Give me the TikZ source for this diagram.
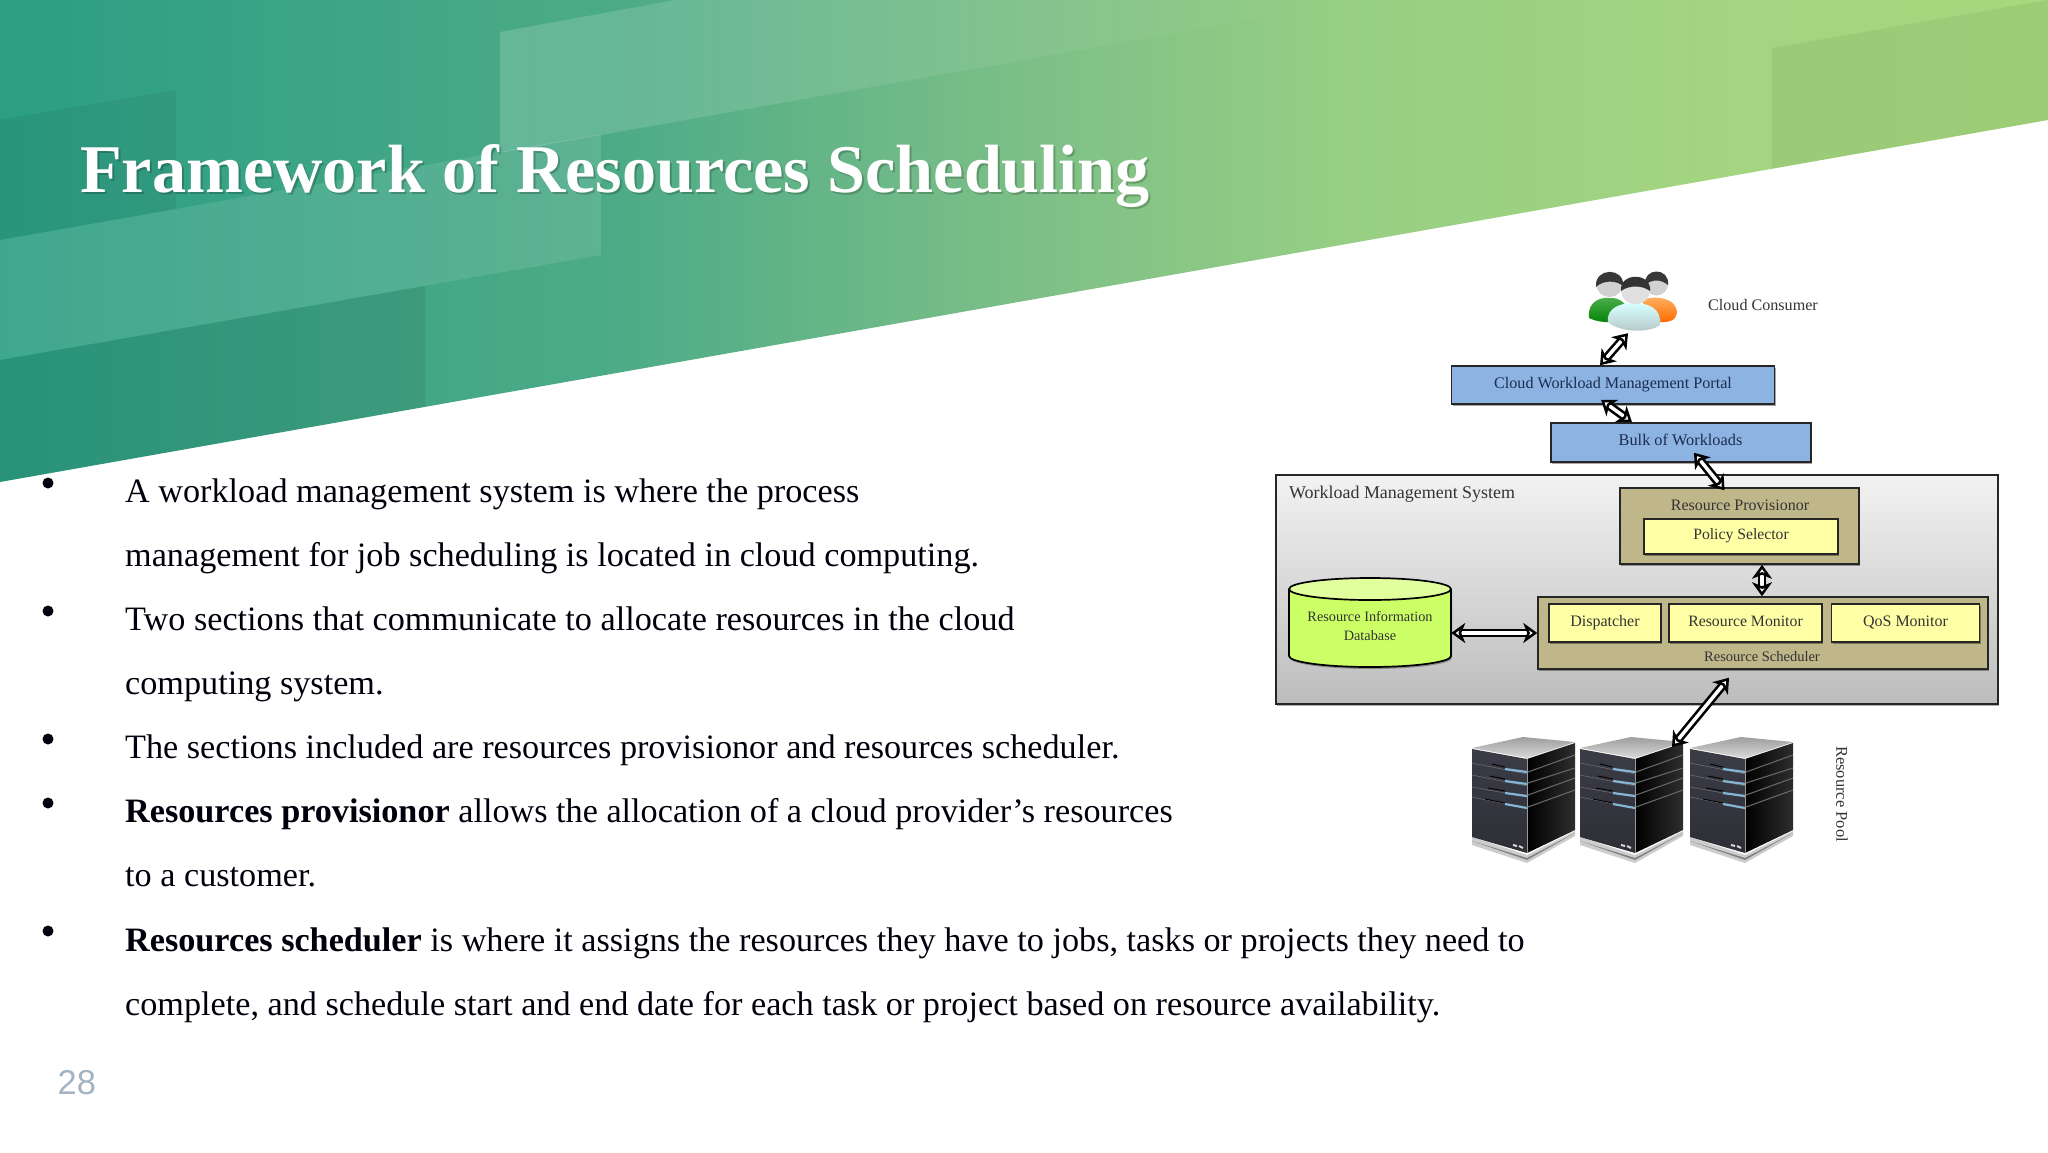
\documentclass[tikz,border=0pt]{standalone}
\usepackage{fontspec}
\setmainfont{Liberation Serif}
\newfontfamily\pagefont{Liberation Sans}
\usetikzlibrary{arrows.meta,shapes.geometric,shadows,calc,fadings}
\definecolor{gradA}{HTML}{2B9E83}
\definecolor{gradB}{HTML}{4DAB87}
\definecolor{gradC}{HTML}{7CBF87}
\definecolor{gradD}{HTML}{96CE84}
\definecolor{gradE}{HTML}{A4D580}
\definecolor{gradF}{HTML}{A6D87E}
\pgfdeclarehorizontalshading{bannergrad}{100bp}{color(0bp)=(gradA); color(25bp)=(gradA); color(40bp)=(gradB); color(50bp)=(gradC); color(57.5bp)=(gradD); color(67.5bp)=(gradE); color(75bp)=(gradF); color(100bp)=(gradF)}
\definecolor{blueBox}{HTML}{8DB3E2}
\definecolor{tanBox}{HTML}{BFB68A}
\definecolor{yelBox}{HTML}{FFFFA6}
\definecolor{dbBody}{HTML}{CCFF66}
\definecolor{dbTop}{HTML}{E2FF9E}
\definecolor{inkNavy}{HTML}{1C2C50}
\definecolor{inkGrey}{HTML}{333333}
\definecolor{pageGrey}{HTML}{A3B3C2}
\definecolor{ledBlue}{HTML}{86B6D6}
\definecolor{frontTop}{HTML}{3C3C48}
\definecolor{frontBot}{HTML}{2E2E36}
\tikzset{
  boxbase/.style={draw=black!85,line width=1.5pt,inner sep=0pt,text height=11pt,text depth=4.5pt,
    drop shadow={shadow xshift=1pt,shadow yshift=-1.5pt,opacity=.35,fill=black}},
  bluebox/.style={boxbase,fill=blueBox,text=inkNavy},
  tanbox/.style={boxbase,fill=tanBox,text=inkGrey},
  yelbox/.style={boxbase,fill=yelBox,text=inkGrey},
  lab/.style={text=inkGrey,inner sep=0pt},
  dblarrow/.style={draw=black,line width=2.6pt,double=white,double distance=3.5pt,
    {Stealth[length=14pt,width=20pt,inset=4pt,open,fill=white,line width=2.8pt]}-{Stealth[length=14pt,width=20pt,inset=4pt,open,fill=white,line width=2.8pt]}},
  bodyline/.style={anchor=base west,inner sep=0pt,text=black!95!blue},
  bulletdot/.style={circle,fill=black!95!blue,minimum size=11pt,inner sep=0pt},
}
\newcommand{\dfs}[1]{\fontsize{#1}{18}\selectfont}
\newcommand{\serverpic}[1]{%
\begin{scope}[shift={(#1,690)}]
  \fill[black!20] (52,147) -- (107,165) -- (155,141) -- (155,146) -- (107,173) -- (52,155) -- cycle;
  \fill[black!50] (52,151) -- (107,168) -- (155,143) -- (107,170) -- cycle;
  \shade[top color=black!38,bottom color=black!15] (52,58) -- (103,47) -- (155,52) -- (107,68) -- cycle;
  \shade[top color=frontTop,bottom color=frontBot] (52,59) -- (107,69) -- (107,163) -- (52,147) -- cycle;
  \shade[left color=black,right color=black!82] (107,69) -- (155,53) -- (155,140) -- (107,163) -- cycle;
  \draw[black!60,line width=1.1pt] (108,82) -- (155,65) (108,93) -- (155,78) (108,105) -- (155,88) (108,117) -- (155,100);
  \draw[black!55,line width=.5pt] (52,73) -- (107,84) (52,85) -- (107,96) (52,97) -- (107,107) (52,107) -- (107,118);
  \draw[black,line width=.9pt] (72,74) -- (85,77) (70,86) -- (85,89) (68,98) -- (85,101) (65,109) -- (85,113);
  \draw[ledBlue,line width=2.2pt] (85,79) -- (107,82) (85,91) -- (107,94) (85,103) -- (107,106) (85,114) -- (107,118);
  \draw[black!40,line width=.8pt] (107,69) -- (107,163);
  \draw[white!85!black,line width=2pt] (93,155) -- (97,156) (99,156) -- (103,158);
\end{scope}}
\begin{document}
\begin{tikzpicture}[x=1pt,y=-1pt]
\useasboundingbox (0,0) rectangle (2048,1152);
\fill[white] (0,0) rectangle (2048,1152);
% banner
\shade[shading=bannergrad] (0,0) -- (2048,0) -- (2048,120) -- (0,482) -- cycle;
\begin{scope}
  \clip (0,0) -- (2048,0) -- (2048,120) -- (0,482) -- cycle;
  \fill[black,opacity=.05] (0,120) -- (176,90) -- (176,209) -- (0,240) -- cycle;
  \fill[white,opacity=.10] (0,240) -- (601,134) -- (601,255) -- (0,360) -- cycle;
  \fill[black,opacity=.07] (0,360) -- (425,286) -- (425,482) -- (0,482) -- cycle;
  \fill[white,opacity=.17,path fading=east] (500,32) -- (676,0) -- (1360,0) -- (1024,60) -- (500,153) -- cycle;
  \fill[black,opacity=.05] (1772,48) -- (2048,0) -- (2048,130) -- (1772,180) -- cycle;
\end{scope}
% title
\node[anchor=base west,inner sep=0pt,text=black,opacity=.2,font=\bfseries\fontsize{68.25}{70}\selectfont] (titleshadow) at (82,194) {Framework of Resources Scheduling};
\node[anchor=base west,inner sep=0pt,text=white,font=\bfseries\fontsize{68.25}{70}\selectfont] (title) at (80,192) {Framework of Resources Scheduling};
% body
\begin{scope}[every node/.append style={font=\fontsize{34.2}{36}\selectfont}]
\node[bodyline] (l1) at (125,502) {A workload management system is where the process};
\node[bodyline] (l2) at (125,566) {management for job scheduling is located in cloud computing.};
\node[bodyline] (l3) at (125,630) {Two sections that communicate to allocate resources in the cloud};
\node[bodyline] (l4) at (125,694) {computing system.};
\node[bodyline] (l5) at (125,758) {The sections included are resources provisionor and resources scheduler.};
\node[bodyline] (l6) at (125,822.5) {\textbf{Resources provisionor} allows the allocation of a cloud provider’s resources};
\node[bodyline] (l7) at (125,886.5) {to a customer.};
\node[bodyline] (l8) at (125,951.5) {\textbf{Resources scheduler} is where it assigns the resources they have to jobs, tasks or projects they need to};
\node[bodyline] (l9) at (125,1015.5) {complete, and schedule start and end date for each task or project based on resource availability.};
\end{scope}
\node[bulletdot] (b1) at (48,483) {};
\node[bulletdot] (b2) at (48,611) {};
\node[bulletdot] (b3) at (48,739) {};
\node[bulletdot] (b4) at (48,803) {};
\node[bulletdot] (b5) at (48,931) {};
\node[anchor=base west,inner sep=0pt,text=pageGrey,font=\pagefont\fontsize{34.5}{36}\selectfont] (pagenum) at (57.5,1094.5) {28};
% workload system
\node[draw=black!85,line width=1.7pt,top color=black!5,bottom color=black!26,minimum width=722pt,minimum height=229pt,inner sep=0pt,drop shadow={shadow xshift=1pt,shadow yshift=-1.5pt,opacity=.3,fill=black}] (wms) at (1637,589.5) {};
\node[lab,anchor=west,font=\dfs{17.95}] (wmslabel) at (1289,494.5) {Workload Management System};
% boxes
\node[bluebox,minimum width=323pt,minimum height=38pt,font=\dfs{16.15}] (portal) at (1613,385) {Cloud Workload Management Portal};
\node[bluebox,minimum width=260pt,minimum height=39pt] (bulk) at (1681,442.5) {};
\node[text=inkNavy,inner sep=0pt,font=\dfs{16.3}] (bulktext) at (1680.5,440) {Bulk of Workloads};
\node[tanbox,minimum width=239pt,minimum height=76pt] (prov) at (1739.5,526) {};
\node[lab,font=\dfs{16}] (provtext) at (1740,505) {Resource Provisionor};
\node[yelbox,minimum width=194pt,minimum height=35pt,font=\dfs{15.7}] (policy) at (1741,536.5) {Policy Selector};
\node[tanbox,minimum width=450pt,minimum height=72pt] (sched) at (1763,633) {};
\node[lab,font=\dfs{14.5}] (schedtext) at (1762,657) {Resource Scheduler};
\node[yelbox,minimum width=112pt,minimum height=38pt,font=\dfs{16}] (disp) at (1605,623) {Dispatcher};
\node[yelbox,minimum width=153pt,minimum height=38pt,font=\dfs{15.8}] (monitor) at (1745.5,623) {Resource Monitor};
\node[yelbox,minimum width=148pt,minimum height=38pt,font=\dfs{16}] (qos) at (1905.5,623) {QoS Monitor};
% database
\node[inner sep=0pt,minimum width=162pt,minimum height=89pt] (db) at (1370,622.5) {};
\fill[black,opacity=.3] (1290,591) -- (1290,658) arc[start angle=180,end angle=360,x radius=81pt,y radius=11pt] -- (1452,591) -- cycle;
\fill[dbBody] (1289,589) -- (1289,656) arc[start angle=180,end angle=360,x radius=81pt,y radius=11pt] -- (1451,589) -- cycle;
\fill[dbTop] (1370,589) ellipse (81pt and 11pt);
\draw[black,line width=1.7pt] (1289,589) -- (1289,656) arc[start angle=180,end angle=360,x radius=81pt,y radius=11pt] -- (1451,589);
\draw[black,line width=1.7pt] (1370,589) ellipse (81pt and 11pt);
\node[inner sep=0pt,text=inkGrey,align=center,font=\fontsize{14.3}{19.6}\selectfont] (dbtext) at (1370,626) {Resource Information\\Database};
% people
\node[inner sep=0pt,minimum size=0pt] (users) at (1633,303) {};
\shade[top color=green!55!black!70!white,bottom color=green!50!black] (1589,318) .. controls (1587,302) and (1600,297) .. (1609,298) .. controls (1620,297) and (1630,304) .. (1628,320) .. controls (1610,324) and (1597,322) .. (1589,318) -- cycle;
\shade[top color=orange!60!white,bottom color=orange!85!red] (1643,300) .. controls (1650,296) and (1672,296) .. (1676,308) .. controls (1679,316) and (1674,322) .. (1664,322) -- (1643,322) -- cycle;
\fill[black!18] (1609.5,285) ellipse (13pt and 12pt);
\fill[black!18] (1656.5,284) ellipse (11.5pt and 11.5pt);
\fill[black!78] (1596,287) .. controls (1594,267) and (1625,267) .. (1623,286) .. controls (1616,280) and (1603,280) .. (1596,287) -- cycle;
\fill[black!78] (1645,285) .. controls (1643,267) and (1670,267) .. (1668,285) .. controls (1661,279) and (1652,279) .. (1645,285) -- cycle;
\shade[top color=cyan!15!white,bottom color=cyan!25!black!30!white] (1608,322) .. controls (1606,307) and (1622,303) .. (1634,303) .. controls (1648,303) and (1662,308) .. (1660,325) .. controls (1650,333) and (1620,333) .. (1608,322) -- cycle;
\fill[black!12] (1635.5,291) ellipse (14.5pt and 13pt);
\fill[black!80] (1621,291) .. controls (1619,272) and (1652,272) .. (1650,291) .. controls (1642,285) and (1629,285) .. (1621,291) -- cycle;
\node[lab,font=\dfs{16.1}] (consumer) at (1763,305) {Cloud Consumer};
% servers
\serverpic{1420}
\serverpic{1528}
\serverpic{1638}
\node[lab,rotate=-90,font=\dfs{16.5}] (pool) at (1842,794) {Resource Pool};
\coordinate (poolend) at (1672,747);
% connectors
\draw[dblarrow] ([xshift=-13pt]portal.north) -- ([shift={(-5pt,-30pt)}]users.south);
\draw[dblarrow] ([xshift=-12pt,yshift=5pt]portal.south) -- ([xshift=-49pt]bulk.north);
\draw[dblarrow] ([xshift=13pt,yshift=10pt]bulk.south) -- ([xshift=-15pt,yshift=-3pt]prov.north);
\draw[dblarrow] (prov.south -| 1762,0) -- (sched.north -| 1762,0);
\draw[dblarrow] (db.east |- 0,633) -- (sched.west |- 0,633);
\draw[dblarrow] (poolend) -- ([xshift=-34pt,yshift=-8pt]sched.south);
\end{tikzpicture}
\end{document}
